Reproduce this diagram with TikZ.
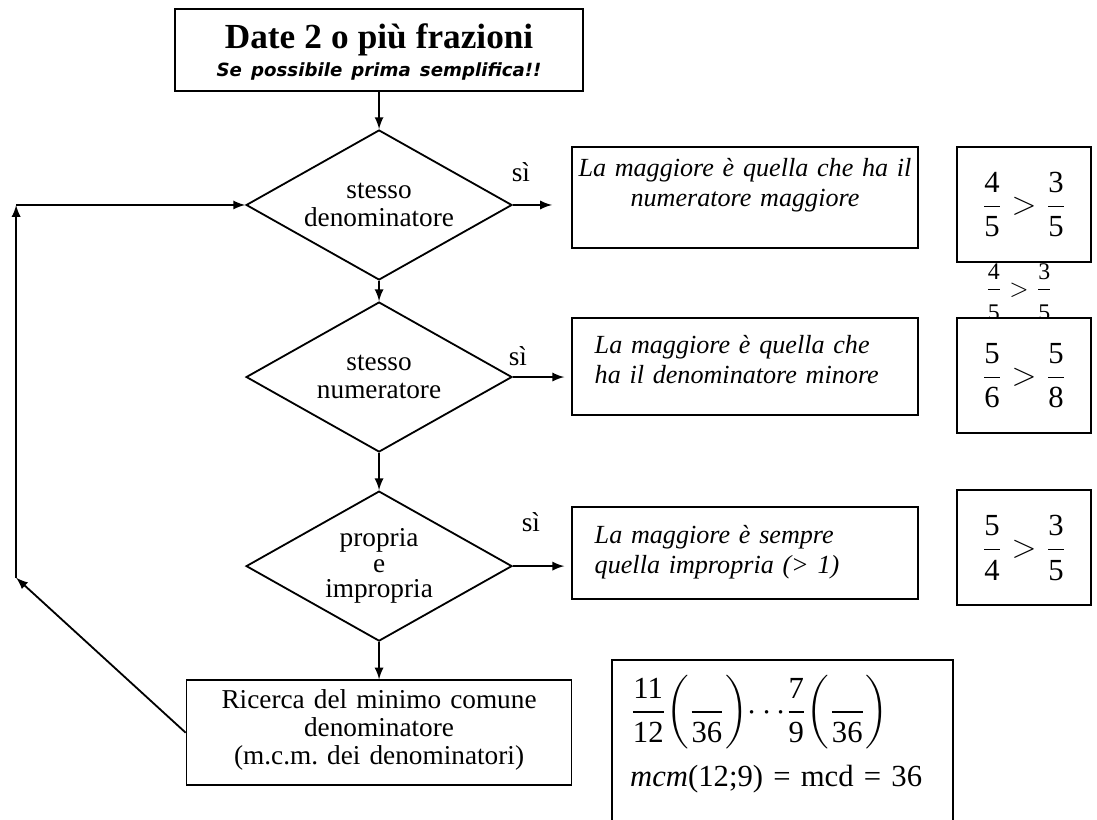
\documentclass[tikz,border=0pt]{standalone}
\usepackage{amsmath, amssymb}
\usepackage{fontspec}
\setmainfont{Liberation Serif}
\newfontfamily\verdana{DejaVu Sans}
\newcommand{\cifra}[1]{\text{\upshape #1}}
\usetikzlibrary{shapes,arrows}
\tikzstyle{decision} = [diamond, aspect=1.77, draw, inner sep=0pt,
    minimum width=117pt, minimum height=66pt, align=center]
\tikzstyle{block} = [rectangle, draw, inner ysep=0pt]
\tikzstyle{textblock} = [block, text width=132.2pt, inner xsep=10pt, align=left,
    font=\itshape\fontsize{11.5}{13.2}\selectfont]
\tikzstyle{mathblock} = [rectangle, draw, fill=white, minimum width=59pt,
    minimum height=50.6pt, inner sep=0pt, font=\fontsize{13.5}{16}\selectfont]
\tikzstyle{arrow} = [draw, -latex, line width=0.8pt]
\tikzstyle{risposta} = [inner sep=0pt, font=\fontsize{12}{14}\selectfont]

\begin{document}
\begin{tikzpicture}[node distance = 2cm, line width=0.8pt,
    every node/.style={font=\fontsize{12}{12.5}\selectfont}]
      \useasboundingbox (-166.8pt,22pt) rectangle (315.9pt,-338.8pt);
      % Place nodes
      \node [block, text width=171.5pt, inner xsep=4pt, align=center, font=\fontsize{12}{12.3}\selectfont,
        text height=17.2pt, text depth=18.9pt] (dateFrazioni) at (0,0)
        {{\fontsize{15.5}{12.3}\selectfont\bfseries Date 2 o più frazioni}\\
         {\verdana\bfseries\itshape\fontsize{8}{12.3}\selectfont Se possibile prima semplifica!!}};

      \node [decision, below of=dateFrazioni, node distance=68.2pt] (stessoDen) {stesso\\denominatore};
      \node [textblock, right of=stessoDen, node distance=161pt, yshift=3.3pt, text width=148pt, inner xsep=2.1pt,
        align=center, text height=12.8pt, text depth=31.7pt] (maggioreNum) {La maggiore è quella che ha il\\numeratore maggiore};
      \node [mathblock, right of=maggioreNum, node distance=122.8pt, yshift=-3.1pt] (esempioNum)
        {$\dfrac{\cifra{4}}{\cifra{5}}>\dfrac{\cifra{3}}{\cifra{5}}$};
      \node [inner sep=0pt, font=\fontsize{10.5}{12}\selectfont, below of=esempioNum, node distance=38.5pt, xshift=-2.2pt]
        (esempioSotto) {$\dfrac{\cifra{4}}{\rule{0pt}{12pt}\cifra{5}}>\dfrac{\cifra{3}}{\rule{0pt}{12pt}\cifra{5}}$};

      \node [decision, below of=stessoDen, node distance=75.7pt] (stessoNum) {stesso\\numeratore};
      \node [textblock, right of=stessoNum, node distance=161pt, yshift=4.6pt,
        text height=15.4pt, text depth=27.3pt] (maggioreDen) {La maggiore è quella che\\ha il denominatore minore};
      \node [mathblock, right of=maggioreDen, node distance=122.8pt, yshift=-4pt] (esempioDen)
        {$\dfrac{\cifra{5}}{\cifra{6}}>\dfrac{\cifra{5}}{\cifra{8}}$};

      \node [decision, below of=stessoNum, node distance=83.2pt, font=\fontsize{12}{11.2}\selectfont] (propriaImpropria) {propria\\e\\impropria};
      \node [textblock, right of=propriaImpropria, node distance=161pt, yshift=5.7pt,
        text height=15.8pt, text depth=24.6pt] (maggioreImpr) {La maggiore è sempre\\quella impropria (> 1)};
      \node [mathblock, right of=maggioreImpr, node distance=122.8pt, yshift=2.4pt] (esempioImpr)
        {$\dfrac{\cifra{5}}{\cifra{4}}>\dfrac{\cifra{3}}{\cifra{5}}$};

      \node [block, below of=propriaImpropria, node distance=73.3pt, text width=160pt, inner xsep=4.7pt, align=center,
        font=\fontsize{12}{12.3}\selectfont, text height=12.3pt, text depth=33.8pt] (ricercaMcd)
        {Ricerca del minimo comune\\denominatore\\(m.c.m.\ dei denominatori)};
      \node [block, right of=ricercaMcd, node distance=177.5pt, yshift=-6.6pt, text width=134pt, inner xsep=8pt, align=left,
        font=\fontsize{13.5}{16}\selectfont, text height=26.4pt, text depth=50.6pt] (esempioMcm)
        {$\dfrac{\cifra{11}}{\cifra{12}}\!\left(\dfrac{\phantom{\cifra{36}}}{\cifra{36}}\right)\!{\cdots}\dfrac{\cifra{7}}{\cifra{9}}\!\left(\dfrac{\phantom{\cifra{36}}}{\cifra{36}}\right)$\\[6pt]
         \textit{mcm}(12;9) = mcd = 36};

      \coordinate [left of=stessoDen, node distance=159.7pt] (loopTop);
      \coordinate [below of=loopTop, node distance=164pt] (loopBottom);

      \path [arrow] (dateFrazioni) -- (stessoDen);
      \path [arrow] (stessoDen) -- (stessoNum);
      \path [arrow] (stessoNum) -- (propriaImpropria);
      \path [arrow] (propriaImpropria) -- (ricercaMcd);

      \path [arrow, shorten >=8.4pt] (stessoDen.east) -- node [risposta, pos=0, xshift=3.5pt, yshift=14.5pt] {sì}(stessoDen.east -| maggioreNum.west);
      \path [arrow, shorten >=3pt] (stessoNum.east) -- node [risposta, pos=0, xshift=2.2pt, yshift=9.2pt] {sì}(stessoNum.east -| maggioreDen.west);
      \path [arrow, shorten >=3pt] (propriaImpropria.east) -- node [risposta, pos=0, xshift=7.9pt, yshift=19.4pt] {sì}(propriaImpropria.east -| maggioreImpr.west);

      \path [arrow] (ricercaMcd.west) -- (loopBottom);
      \path [arrow] (loopBottom) -- (loopTop);
      \path [arrow] (loopTop) -- (stessoDen);
\end{tikzpicture}
\end{document}
